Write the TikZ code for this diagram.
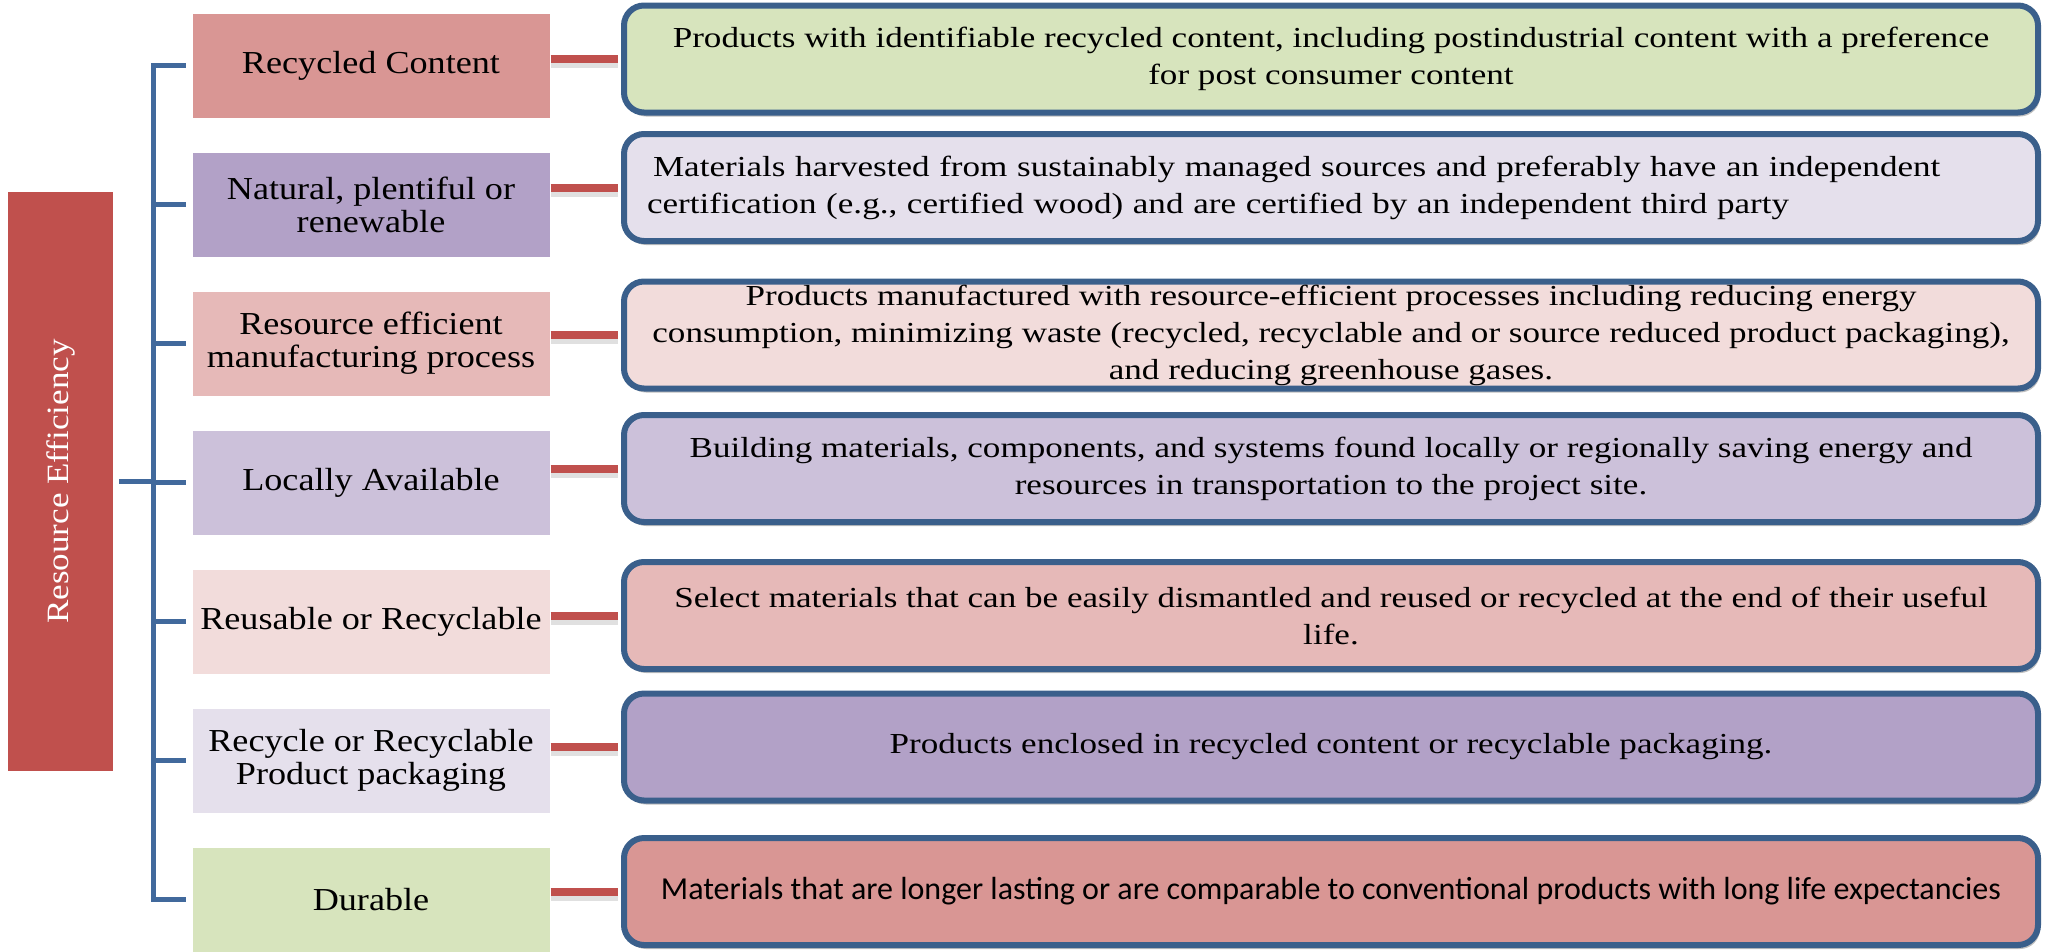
\documentclass[tikz,border=0pt]{standalone}
\usepackage{fontspec}
\setmainfont{Liberation Serif}
\newfontfamily\calib{Carlito}
\newfontfamily\leftserif[FakeStretch=1.13]{Liberation Serif}
\newfontfamily\rightserif[FakeStretch=1.21]{Liberation Serif}
\usetikzlibrary{shadows}
\definecolor{redbar}{HTML}{C0504D}
\definecolor{cA}{HTML}{D99694}
\definecolor{cB}{HTML}{B2A1C7}
\definecolor{cC}{HTML}{E6B9B8}
\definecolor{cD}{HTML}{CCC1DA}
\definecolor{cE}{HTML}{F2DCDB}
\definecolor{cF}{HTML}{E5E0EC}
\definecolor{cG}{HTML}{D7E4BD}
\definecolor{bordercol}{HTML}{3A5F8B}
\definecolor{bracketcol}{HTML}{41699C}
\tikzset{
  leftbox/.style={rectangle, minimum width=358pt, minimum height=105pt, inner sep=0pt,
    align=center, font=\leftserif\fontsize{32}{33}\selectfont, draw=white, line width=1pt},
  rightbox/.style={rectangle, rounded corners=20pt, draw=bordercol, line width=6pt,
    minimum width=1414pt, minimum height=107pt, inner sep=0pt, align=center,
    font=\rightserif\fontsize{29}{37}\selectfont,
    drop shadow={shadow xshift=2pt, shadow yshift=-4pt, opacity=0.25, fill=black}},
  bracket/.style={draw=bracketcol, line width=5pt},
  connector/.style={draw=redbar, line width=8pt},
  connshadow/.style={draw=black, opacity=0.12, line width=6pt}
}
\begin{document}
\begin{tikzpicture}[x=1pt,y=-1pt]
\useasboundingbox (0,0) rectangle (2049,951);
% root
\node[fill=redbar, minimum width=105pt, minimum height=579pt, inner sep=0pt] (root) at (60.5,481.5) {};
\node[rotate=90, text=white, font=\leftserif\fontsize{31}{33}\selectfont] (roottext) at (root.center) {Resource Efficiency};
% left boxes
\node[leftbox, fill=cA] (b1) at (371,65.5) {Recycled Content};
\node[leftbox, fill=cB] (b2) at (371,204.5) {Natural, plentiful or\\renewable};
\node[leftbox, fill=cC] (b3) at (371,343.5) {Resource efficient\\manufacturing process};
\node[leftbox, fill=cD] (b4) at (371,482.5) {Locally Available};
\node[leftbox, fill=cE] (b5) at (371,621.5) {Reusable or Recyclable};
\node[leftbox, fill=cF] (b6) at (371,760.5) {Recycle or Recyclable\\Product packaging};
\node[leftbox, fill=cG] (b7) at (371,899.5) {Durable};
% right boxes
\node[rightbox, fill=cG] (r1) at (1331,59) {Products with identifiable recycled content, including postindustrial content with a preference\\for post consumer content};
\node[rightbox, fill=cF, text width=1384pt, align=left] (r2) at (1331,187.5) {\hspace{14pt}Materials harvested from sustainably managed sources and preferably have an independent\\\hspace{8pt}certification (e.g., certified wood) and are certified by an independent third party};
\node[rightbox, fill=cE] (r3) at (1331,335) {Products manufactured with resource-efficient processes including reducing energy\\consumption, minimizing waste (recycled, recyclable and or source reduced product packaging),\\and reducing greenhouse gases.};
\node[rightbox, fill=cD] (r4) at (1331,468.5) {Building materials, components, and systems found locally or regionally saving energy and\\resources in transportation to the project site.};
\node[rightbox, fill=cC] (r5) at (1331,615.5) {Select materials that can be easily dismantled and reused or recycled at the end of their useful\\life.};
\node[rightbox, fill=cB] (r6) at (1331,747) {Products enclosed in recycled content or recyclable packaging.};
\node[rightbox, fill=cA, font=\calib\fontsize{32}{36}\selectfont] (r7) at (1331,891.5) {Materials that are longer lasting or are comparable to conventional products with long life expectancies};
% bracket
\coordinate (spine) at (153,0);
\draw[bracket] ([xshift=-6pt]b1.west) -- (b1.west -| spine) -- (b7.west -| spine) -- ([xshift=-6pt]b7.west);
\foreach \i in {2,...,6} {
  \draw[bracket] ([xshift=-6pt]b\i.west) -- (b\i.west -| spine);
}
\draw[bracket] ([xshift=6pt]root.east) -- (root.east -| spine);
% connectors
\foreach \i in {1,...,7} {
  \draw[connshadow] ([yshift=-6pt]b\i.east |- r\i.west) -- ([yshift=-6pt,xshift=-3pt]r\i.west);
  \draw[connector] (b\i.east |- r\i.west) -- ([xshift=-3pt]r\i.west);
}
\end{tikzpicture}
\end{document}
